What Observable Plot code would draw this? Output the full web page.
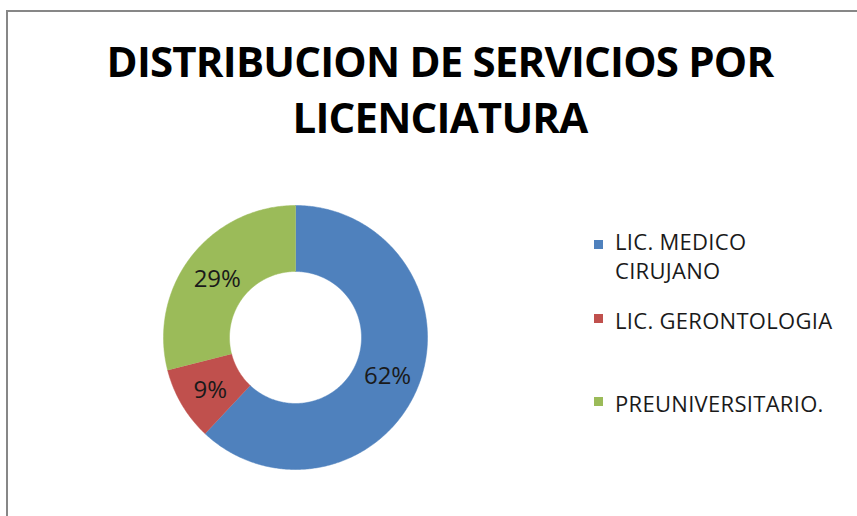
<!DOCTYPE html>
<html><head><meta charset="utf-8">
<script src="https://cdn.jsdelivr.net/npm/d3@7"></script>
<script src="https://cdn.jsdelivr.net/npm/@observablehq/plot@0.6"></script>
<style>
html,body{margin:0;padding:0;background:#fff;overflow:hidden;width:857px;height:516px;}
#frame{position:absolute;left:6px;top:10px;width:900px;height:600px;border:2px solid #878787;box-sizing:border-box;}
#title{position:absolute;left:0;top:33px;width:880px;text-align:center;font-family:"Open Sans",sans-serif;font-weight:700;font-size:42px;line-height:56px;color:#000;letter-spacing:-0.8px;}
#chart{position:absolute;left:0;top:154px;}
.leg{position:absolute;font-family:"Open Sans",sans-serif;font-size:22px;line-height:29px;color:#1a1a1a;letter-spacing:0.3px;white-space:nowrap;}
.sw{position:absolute;width:9px;height:9px;}
</style></head>
<body>
<div id="frame"></div>
<div id="title">DISTRIBUCION DE SERVICIOS POR<br>LICENCIATURA</div>
<div id="chart"></div>
<div id="legend"></div>
<script>
const categories = ["LIC. MEDICO CIRUJANO", "LIC. GERONTOLOGIA", "PREUNIVERSITARIO."];
const legendLines = [["LIC. MEDICO", "CIRUJANO"], ["LIC. GERONTOLOGIA"], ["PREUNIVERSITARIO."]];
const values = [62, 9, 29];
const labels = ["62%", "9%", "29%"];
const colors = ["#4F81BD", "#C0504D", "#9BBB59"];

const innerR = 0.5, outerR = 1;
const pie = d3.pie().sort(null).value(d => d)(values);
const polys = [];
pie.forEach((p, i) => {
  const n = Math.max(8, Math.ceil((p.endAngle - p.startAngle) / 0.01));
  for (let k = 0; k <= n; k++) {
    const a = p.startAngle + (p.endAngle - p.startAngle) * k / n;
    polys.push({cat: categories[i], x: outerR * Math.sin(a), y: outerR * Math.cos(a)});
  }
  for (let k = n; k >= 0; k--) {
    const a = p.startAngle + (p.endAngle - p.startAngle) * k / n;
    polys.push({cat: categories[i], x: innerR * Math.sin(a), y: innerR * Math.cos(a)});
  }
});
const mids = pie.map((p, i) => {
  const a = (p.startAngle + p.endAngle) / 2, r = (innerR + outerR) / 2;
  return {label: labels[i], x: r * Math.sin(a), y: r * Math.cos(a)};
});

const plot = Plot.plot({
  width: 590, height: 366,
  marginLeft: 163, marginRight: 163, marginTop: 51, marginBottom: 51,
  x: {domain: [-1, 1], axis: null},
  y: {domain: [-1, 1], axis: null},
  color: {domain: categories, range: colors},
  style: {background: "transparent", overflow: "visible"},
  marks: [
    Plot.line(polys, {x: "x", y: "y", z: "cat", fill: "cat", stroke: "cat", strokeWidth: 0.5, curve: "linear"}),
    Plot.text(mids, {x: "x", y: "y", text: "label", fontSize: 24, fontFamily: "Open Sans, sans-serif", fill: "#1a1a1a", dy: 2})
  ]
});
document.getElementById("chart").appendChild(plot);

// legend
const leg = document.getElementById("legend");
const swY = [240, 314, 397];
const txtY = [227, 306, 389];
legendLines.forEach((lines, i) => {
  const sw = document.createElement("div");
  sw.className = "sw"; sw.style.left = "594px"; sw.style.top = swY[i] + "px"; sw.style.background = colors[i];
  leg.appendChild(sw);
  const t = document.createElement("div");
  t.className = "leg"; t.style.left = "615px"; t.style.top = txtY[i] + "px";
  t.innerHTML = lines.join("<br>");
  leg.appendChild(t);
});
</script>
</body></html>
